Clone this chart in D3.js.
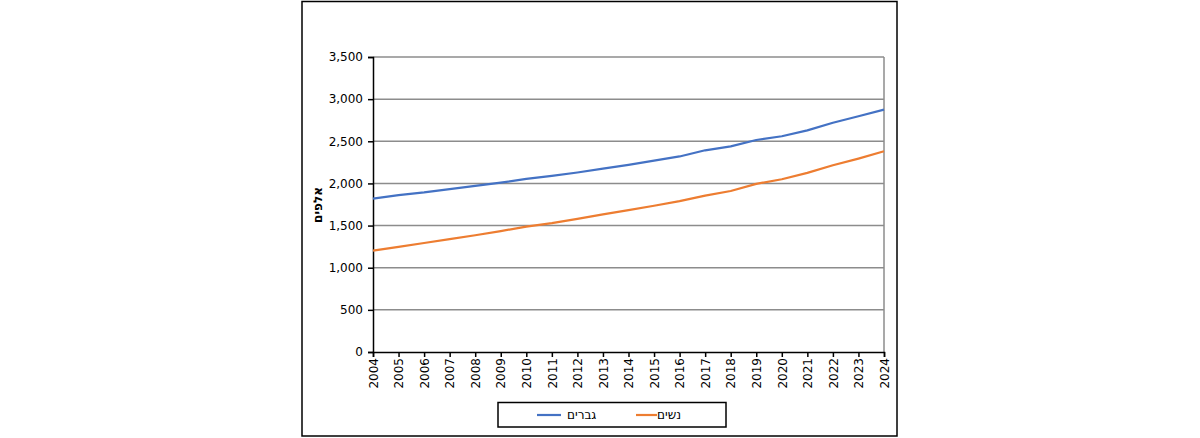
<!DOCTYPE html>
<html>
<head>
<meta charset="utf-8">
<script src="https://cdn.jsdelivr.net/npm/d3@7"></script>
<style>
html,body{margin:0;padding:0;background:#fff;}
svg{display:block;}
</style>
</head>
<body>
<svg id="chart" width="1200" height="438"></svg>
<script>
const years = [2004,2005,2006,2007,2008,2009,2010,2011,2012,2013,2014,2015,2016,2017,2018,2019,2020,2021,2022,2023,2024];
const men   = [1820,1862,1893,1932,1970,2010,2053,2090,2130,2175,2220,2270,2320,2393,2440,2515,2560,2630,2720,2797,2875];
const women = [1203,1248,1293,1340,1385,1435,1488,1530,1580,1633,1683,1735,1790,1855,1910,1995,2050,2125,2215,2295,2381];
const yTicks = [0,500,1000,1500,2000,2500,3000,3500];
const seriesNames = ["גברים","נשים"];
const seriesColors = ["#4472C4","#ED7D31"];
const yTitle = "אלפים";

const svg = d3.select("#chart");
const font = "Tahoma, 'DejaVu Sans', Verdana, sans-serif";

// outer frame
svg.append("rect").attr("x",302).attr("y",1.5).attr("width",595).attr("height",434.5)
  .attr("fill","none").attr("stroke","#000").attr("stroke-width",1.5);

const pLeft=373, pRight=884, pTop=57, pBottom=352;
const x = d3.scaleLinear().domain([2004,2024]).range([pLeft,pRight]);
const y = d3.scaleLinear().domain([0,3500]).range([pBottom,pTop]);

// gridlines
svg.append("g").selectAll("line").data(yTicks.filter(d=>d>0)).join("line")
  .attr("x1",pLeft).attr("x2",pRight)
  .attr("y1",d=>y(d)).attr("y2",d=>y(d))
  .attr("stroke","#8c8c8c").attr("stroke-width",1.5);
// right border of plot
svg.append("line").attr("x1",pRight).attr("x2",pRight).attr("y1",pTop).attr("y2",pBottom)
  .attr("stroke","#8c8c8c").attr("stroke-width",1.5);

// y axis
const yAxis = d3.axisLeft(y).tickValues(yTicks).tickSize(5).tickPadding(5)
  .tickFormat(d3.format(","));
const gy = svg.append("g").attr("transform",`translate(${pLeft},0)`).call(yAxis);
gy.select(".domain").attr("stroke","#000").attr("stroke-width",1.5);
gy.selectAll(".tick line").attr("stroke","#000").attr("stroke-width",1.5);
gy.selectAll("text").attr("font-family",font).attr("font-size",12).attr("fill","#000");

// x axis
const xAxis = d3.axisBottom(x).tickValues(years).tickSize(5).tickFormat(d3.format("d"));
const gx = svg.append("g").attr("transform",`translate(0,${pBottom})`).call(xAxis);
gx.select(".domain").attr("stroke","#000").attr("stroke-width",1.5);
gx.selectAll(".tick line").attr("stroke","#000").attr("stroke-width",1.5);
gx.selectAll("text").attr("font-family",font).attr("font-size",12).attr("fill","#000")
  .attr("transform","rotate(-90)").attr("text-anchor","end")
  .attr("x",-6).attr("y",0).attr("dy","0.35em");

// y title
svg.append("text").attr("transform",`translate(318,205) rotate(-90)`)
  .attr("text-anchor","middle").attr("dominant-baseline","middle")
  .attr("font-family",font).attr("font-size",12).attr("font-weight","bold")
  .text(yTitle);

// lines
const line = d3.line().x((d,i)=>x(years[i])).y(d=>y(d));
[men,women].forEach((s,i)=>{
  svg.append("path").datum(s).attr("d",line).attr("fill","none")
    .attr("stroke",seriesColors[i]).attr("stroke-width",2.2).attr("stroke-linejoin","round");
});

// legend
svg.append("rect").attr("x",498).attr("y",402.5).attr("width",228).attr("height",24.5)
  .attr("fill","#fff").attr("stroke","#000").attr("stroke-width",1.5);
const ly = 415;
svg.append("line").attr("x1",537).attr("x2",561).attr("y1",ly).attr("y2",ly)
  .attr("stroke",seriesColors[0]).attr("stroke-width",2.2);
svg.append("text").attr("x",567).attr("y",ly).attr("dy","0.35em")
  .attr("font-family",font).attr("font-size",12).text(seriesNames[0]);
svg.append("line").attr("x1",636).attr("x2",657).attr("y1",ly).attr("y2",ly)
  .attr("stroke",seriesColors[1]).attr("stroke-width",2.2);
svg.append("text").attr("x",657).attr("y",ly).attr("dy","0.35em")
  .attr("font-family",font).attr("font-size",12).text(seriesNames[1]);
</script>
</body>
</html>
